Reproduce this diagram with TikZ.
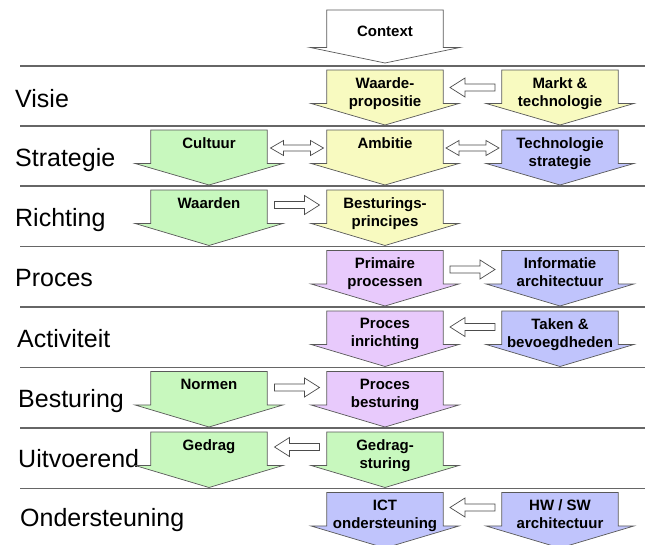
\documentclass[tikz,border=0pt]{standalone}
\usepackage{fontspec}
\setmainfont{Liberation Sans}
\usetikzlibrary{calc}
\definecolor{grn}{RGB}{200,248,190}
\definecolor{yel}{RGB}{248,250,192}
\definecolor{pnk}{RGB}{232,202,252}
\definecolor{blu}{RGB}{192,196,252}
\tikzset{
 shaftbox/.style={anchor=north, minimum width=116pt, minimum height=33pt, inner sep=0pt, draw=none},
 arrowline/.style={draw=black!65, line width=0.7pt, line join=miter},
 boxtext/.style={font=\fontsize{15}{18}\selectfont\bfseries, align=center, inner sep=0pt, anchor=north},
 rowlabel/.style={font=\fontsize{25}{30}\selectfont, anchor=base west, inner sep=0pt},
 sepline/.style={draw=black!60, line width=1.2pt},
 hollow/.style={draw=black!70, fill=white, line width=0.7pt, line join=miter},
}
\newcommand\darrow[6]{%
 \node[shaftbox] (#1) at (#2,#3) {};
 \draw[arrowline, fill=#5] (#1.north west) -- (#1.north east) -- (#1.south east) -- ++(16,0) -- (#2,#4) -- ([xshift=-16pt]#1.south west) -- (#1.south west) -- cycle;
 \node[boxtext] (#1t) at ([yshift=-7pt]#1.north) {#6};
}
\newcommand\hleft[1]{\draw[hollow] ([xshift=-22.5pt]#1) -- ++(15,-9.5) -- ++(0,6) -- ++(30,0) -- ++(0,7) -- ++(-30,0) -- ++(0,6) -- cycle;}
\newcommand\hright[1]{\draw[hollow] ([xshift=22.5pt]#1) -- ++(-15,-9.5) -- ++(0,6) -- ++(-30,0) -- ++(0,7) -- ++(30,0) -- ++(0,6) -- cycle;}
\newcommand\hboth[1]{\draw[hollow] ([xshift=-26.5pt]#1) -- ++(13,-7.5) -- ++(0,4.5) -- ++(27,0) -- ++(0,-4.5) -- ++(13,7.5) -- ++(-13,7.5) -- ++(0,-4.5) -- ++(-27,0) -- ++(0,4.5) -- cycle;}
\begin{document}
\begin{tikzpicture}[x=1pt,y=-1pt]
\useasboundingbox (0,0) rectangle (645,544);
\clip (0,0) rectangle (645,544);
\fill[white] (0,0) rectangle (645,544);
% separator lines
\foreach \yy in {66,126,186,246.5,307,367.5,428,488.5}
  \draw[sepline] (20,\yy) -- (645,\yy);
% row labels
\node[rowlabel] (lv) at (15,107) {Visie};
\node[rowlabel] (ls) at (15,166) {Strategie};
\node[rowlabel] (lr) at (15,226) {Richting};
\node[rowlabel] (lp) at (15,286) {Proces};
\node[rowlabel] (la) at (17,347) {Activiteit};
\node[rowlabel] (lb) at (18,407) {Besturing};
\node[rowlabel] (lu) at (18,467) {Uitvoerend};
\node[rowlabel] (lo) at (20,526) {Ondersteuning};
% context
\node[shaftbox, minimum height=37pt] (ctx) at (385,10) {};
\draw[arrowline, fill=white] (ctx.north west) -- (ctx.north east) -- (ctx.south east) -- ++(17,0) -- (385,63) -- ([xshift=-17pt]ctx.south west) -- (ctx.south west) -- cycle;
\node[boxtext, anchor=center] (ctxt) at (385,31) {Context};
% row 1
\darrow{wp}{385}{70}{125}{yel}{Waarde-\\propositie}
\darrow{mt}{560}{70}{125}{yel}{Markt \&\\technologie}
% row 2
\darrow{cu}{209}{130}{185}{grn}{Cultuur}
\darrow{am}{385}{130}{185}{yel}{Ambitie}
\darrow{ts}{560}{130}{185}{blu}{Technologie\\strategie}
% row 3
\darrow{wa}{209}{190}{245.5}{grn}{Waarden}
\darrow{bp}{385}{190}{245.5}{yel}{Besturings-\\principes}
% row 4
\darrow{pp}{385}{250.5}{306}{pnk}{Primaire\\processen}
\darrow{ia}{560}{250.5}{306}{blu}{Informatie\\architectuur}
% row 5
\darrow{pi}{385}{311}{366.5}{pnk}{Proces\\inrichting}
\darrow{tb}{560}{311}{366.5}{blu}{Taken \&\\bevoegdheden}
% row 6
\darrow{no}{209}{371.5}{427}{grn}{Normen}
\darrow{pb}{385}{371.5}{427}{pnk}{Proces\\besturing}
% row 7
\darrow{ge}{209}{432}{487.5}{grn}{Gedrag}
\darrow{gs}{385}{432}{487.5}{grn}{Gedrag-\\sturing}
% row 8
\darrow{ict}{385}{492.5}{548}{blu}{ICT\\ondersteuning}
\darrow{hw}{560}{492.5}{548}{blu}{HW / SW\\architectuur}
% connectors
\coordinate (c1) at ($(wp.north east)!0.5!(mt.north west)+(0,17.5)$);
\hleft{c1}
\coordinate (c2) at ($(cu.north east)!0.5!(am.north west)+(0,18)$);
\hboth{c2}
\coordinate (c3) at ($(am.north east)!0.5!(ts.north west)+(0,18)$);
\hboth{c3}
\coordinate (c4) at ($(wa.north east)!0.5!(bp.north west)+(0,15)$);
\hright{c4}
\coordinate (c5) at ($(pp.north east)!0.5!(ia.north west)+(0,19)$);
\hright{c5}
\coordinate (c6) at ($(pi.north east)!0.5!(tb.north west)+(0,16)$);
\hleft{c6}
\coordinate (c7) at ($(no.north east)!0.5!(pb.north west)+(0,16)$);
\hright{c7}
\coordinate (c8) at ($(ge.north east)!0.5!(gs.north west)+(0,15)$);
\hleft{c8}
\coordinate (c9) at ($(ict.north east)!0.5!(hw.north west)+(0,15)$);
\hleft{c9}
\end{tikzpicture}
\end{document}
